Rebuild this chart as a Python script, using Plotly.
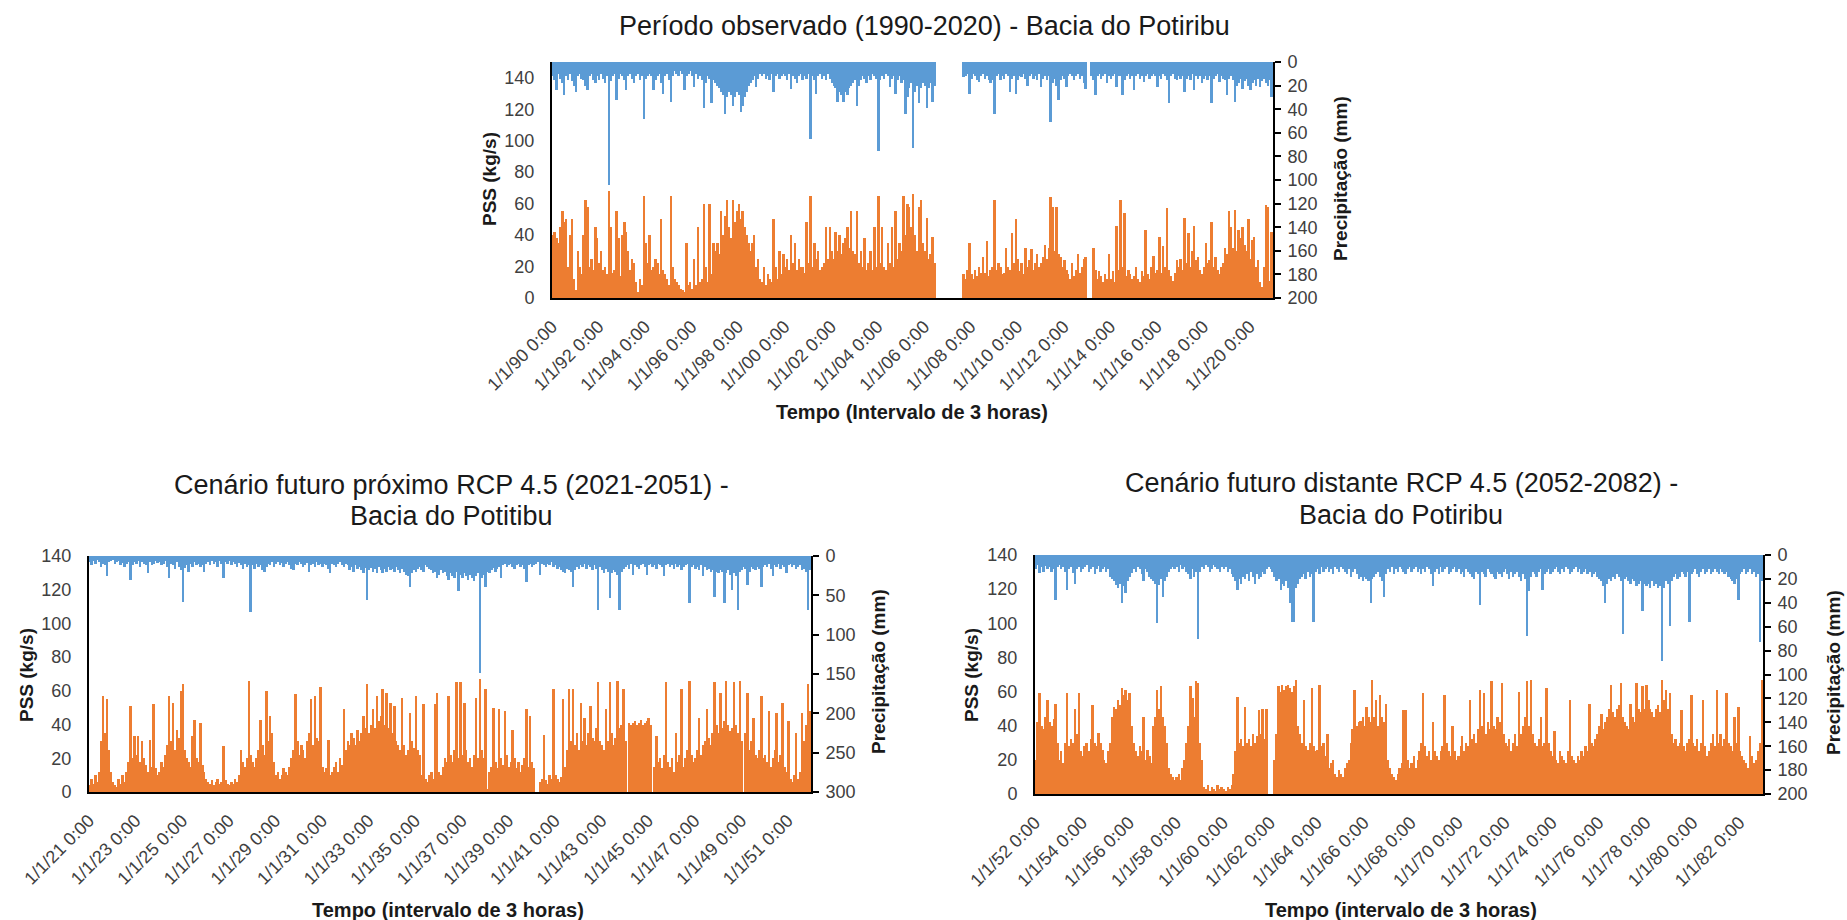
import pandas as pd
import plotly.graph_objects as go

W, H = 1847, 920
ORANGE = "#ED7D31"
BLUE = "#5B9BD5"
N = None

# ---------------- Observed period 1990-2020 (monthly values) ----------------
pss_obs = [
    40, 42, 38, 35, 45, 55, 48, 50, 20, 40, 50, 12,   # 1990
    5, 30, 20, 15, 40, 62, 58, 20, 25, 18, 45, 38,    # 1991
    22, 30, 18, 20, 15, 68, 45, 16, 18, 55, 38, 14,   # 1992
    40, 48, 42, 30, 18, 25, 22, 10, 4, 12, 8, 65,     # 1993
    35, 22, 40, 18, 20, 25, 22, 15, 50, 18, 15, 12,   # 1994
    8, 65, 20, 12, 10, 8, 6, 5, 4, 35, 8, 10,         # 1995
    6, 25, 8, 45, 10, 12, 60, 20, 10, 60, 15, 35,     # 1996
    30, 35, 28, 55, 40, 52, 62, 45, 38, 62, 48, 55,   # 1997
    60, 50, 55, 45, 40, 35, 30, 35, 40, 20, 25, 12,   # 1998
    10, 20, 8, 15, 12, 10, 50, 20, 12, 30, 15, 28,    # 1999
    20, 25, 18, 40, 22, 35, 18, 25, 20, 20, 16, 48,   # 2000
    22, 65, 20, 35, 25, 30, 18, 20, 22, 45, 25, 45,   # 2001
    30, 25, 42, 30, 40, 28, 35, 38, 45, 32, 55, 30,   # 2002
    28, 55, 22, 30, 20, 38, 18, 22, 30, 18, 45, 20,   # 2003
    65, 22, 45, 20, 18, 35, 22, 45, 20, 55, 25, 35,   # 2004
    30, 65, 40, 60, 58, 45, 66, 40, 30, 58, 62, 35,   # 2005
    30, 51, 25, 28, 39, 22, N, N, N, N, N, N,         # 2006
    N, N, N, N, N, N, N, N, 15, 12, 18, 35,           # 2007
    15, 12, 18, 14, 20, 16, 26, 16, 36, 14, 18, 20,   # 2008
    62, 18, 22, 20, 15, 16, 32, 20, 18, 41, 22, 50,   # 2009
    25, 17, 22, 15, 32, 20, 24, 31, 18, 22, 28, 20,   # 2010
    22, 26, 34, 25, 32, 64, 58, 30, 58, 28, 26, 20,   # 2011
    24, 18, 15, 12, 22, 14, 18, 28, 16, 20, 25, 26,   # 2012
    0, 0, 0, 32, 18, 12, 17, 14, 10, 15, 12, 28,      # 2013
    12, 17, 10, 46, 18, 62, 20, 54, 14, 18, 15, 12,   # 2014
    14, 20, 12, 10, 17, 14, 43, 15, 12, 20, 27, 16,   # 2015
    18, 39, 16, 33, 20, 57, 18, 14, 11, 16, 24, 20,   # 2016
    25, 18, 51, 22, 41, 20, 30, 46, 24, 26, 18, 15,   # 2017
    20, 35, 22, 24, 48, 20, 26, 18, 15, 20, 22, 32,   # 2018
    28, 55, 45, 32, 56, 30, 43, 38, 45, 34, 30, 50,   # 2019
    25, 37, 39, 20, 24, 10, 7, 20, 59, 58, 11, 42,    # 2020
]
prec_obs = [
    12, 15, 24, 10, 14, 18, 28, 12, 15, 10, 16, 20,   # 1990
    25, 12, 10, 14, 15, 20, 24, 12, 10, 15, 18, 12,   # 1991
    15, 10, 14, 18, 12, 104, 16, 12, 10, 32, 14, 10,  # 1992
    12, 15, 24, 12, 10, 14, 18, 12, 10, 15, 12, 48,   # 1993
    14, 12, 10, 12, 24, 15, 12, 10, 18, 27, 12, 10,   # 1994
    15, 34, 12, 8, 10, 12, 8, 10, 24, 12, 10, 8,      # 1995
    12, 21, 10, 14, 12, 15, 39, 18, 12, 14, 35, 15,   # 1996
    18, 20, 22, 25, 28, 44, 30, 25, 28, 37, 30, 25,   # 1997
    28, 42, 37, 30, 25, 20, 18, 15, 12, 21, 14, 10,   # 1998
    12, 10, 14, 12, 15, 10, 25, 12, 10, 14, 12, 10,   # 1999
    12, 15, 10, 23, 12, 14, 18, 12, 10, 15, 12, 14,   # 2000
    10, 65, 12, 15, 27, 12, 10, 14, 12, 15, 10, 14,   # 2001
    18, 20, 22, 34, 25, 28, 34, 25, 28, 22, 20, 18,   # 2002
    15, 37, 20, 15, 12, 14, 18, 12, 15, 10, 12, 14,   # 2003
    75, 15, 12, 14, 10, 12, 21, 14, 12, 27, 15, 12,   # 2004
    18, 15, 44, 30, 22, 18, 73, 25, 20, 35, 22, 18,   # 2005
    20, 39, 22, 18, 34, 20, N, N, N, N, N, N,         # 2006
    N, N, N, N, N, N, N, N, 13, 12, 10, 27,           # 2007
    14, 10, 12, 15, 17, 12, 10, 14, 12, 15, 18, 15,   # 2008
    44, 12, 10, 15, 12, 14, 10, 12, 25, 14, 12, 27,   # 2009
    15, 12, 13, 10, 14, 20, 12, 10, 14, 12, 15, 10,   # 2010
    21, 14, 12, 15, 12, 51, 18, 14, 20, 32, 15, 12,   # 2011
    14, 21, 12, 10, 12, 15, 12, 10, 14, 12, 18, 23,   # 2012
    0, 0, 12, 15, 28, 12, 10, 14, 12, 10, 18, 12,     # 2013
    14, 12, 10, 21, 12, 12, 28, 15, 12, 10, 14, 12,   # 2014
    24, 12, 10, 14, 12, 17, 12, 10, 14, 12, 10, 12,   # 2015
    21, 12, 14, 10, 12, 15, 35, 12, 10, 14, 15, 12,   # 2016
    14, 12, 25, 14, 12, 15, 10, 24, 12, 14, 12, 18,   # 2017
    14, 12, 15, 12, 35, 14, 12, 10, 17, 12, 14, 15,   # 2018
    28, 14, 12, 15, 34, 20, 18, 14, 23, 16, 14, 20,   # 2019
    24, 18, 15, 20, 14, 21, 16, 14, 18, 20, 15, 30,   # 2020
]

# ---------------- Near future RCP 4.5, 2021-2051 ----------------
pss_near = [
    4, 8, 5, 10, 6, 12, 30, 57, 35, 55, 25, 12,       # 2021
    6, 4, 3, 8, 5, 10, 6, 12, 18, 51, 20, 33,         # 2022
    22, 33, 18, 30, 20, 16, 12, 31, 15, 52, 14, 10,   # 2023
    12, 18, 15, 22, 28, 57, 30, 53, 25, 37, 32, 60,   # 2024
    64, 25, 20, 18, 15, 33, 43, 20, 18, 41, 16, 12,   # 2025
    8, 6, 5, 7, 4, 6, 8, 5, 6, 27, 7, 5,              # 2026
    4, 6, 5, 8, 6, 10, 25, 18, 15, 20, 66, 22,        # 2027
    18, 15, 20, 25, 43, 28, 22, 60, 30, 45, 35, 18,   # 2028
    10, 12, 8, 10, 14, 12, 10, 15, 20, 25, 58, 30,    # 2029
    22, 28, 25, 20, 30, 35, 55, 28, 57, 32, 30, 62,   # 2030
    15, 12, 14, 31, 10, 12, 15, 18, 12, 20, 16, 49,   # 2031
    25, 30, 28, 35, 32, 28, 37, 30, 35, 45, 38, 64,   # 2032
    35, 40, 49, 38, 57, 42, 45, 61, 40, 59, 38, 53,   # 2033
    35, 51, 30, 28, 25, 56, 28, 22, 25, 47, 30, 26,   # 2034
    57, 25, 22, 10, 52, 8, 6, 10, 12, 8, 52, 59,      # 2035
    12, 10, 15, 20, 18, 57, 22, 18, 25, 65, 20, 65,   # 2036
    22, 53, 25, 18, 20, 15, 22, 56, 20, 67, 25, 20,   # 2037
    61, 2, 12, 15, 50, 18, 14, 49, 20, 16, 48, 22,    # 2038
    15, 18, 37, 20, 14, 18, 12, 16, 20, 49, 15, 45,   # 2039
    18, 14, 0, 0, 6, 8, 34, 7, 5, 10, 8, 61,          # 2040
    10, 8, 6, 9, 55, 15, 25, 61, 30, 61, 28, 35,      # 2041
    25, 53, 30, 44, 28, 35, 51, 32, 30, 38, 65, 30,   # 2042
    28, 25, 49, 30, 65, 35, 28, 32, 66, 38, 40, 61,   # 2043
    30, 0, 41, 40, 41, 42, 40, 41, 43, 40, 41, 42,    # 2044
    44, 40, 0, 15, 33, 18, 20, 14, 22, 65, 18, 15,    # 2045
    20, 12, 35, 18, 22, 61, 15, 20, 25, 66, 22, 18,   # 2046
    20, 25, 44, 22, 28, 30, 49, 32, 28, 35, 65, 40,   # 2047
    35, 59, 38, 42, 66, 40, 36, 38, 65, 40, 35, 66,   # 2048
    30, 0, 35, 59, 25, 30, 44, 22, 20, 25, 57, 20,    # 2049
    22, 18, 48, 15, 20, 25, 47, 18, 22, 53, 15, 12,   # 2050
    42, 8, 6, 10, 35, 8, 12, 47, 30, 40, 64, 48,      # 2051
]
prec_near = [
    8, 12, 6, 10, 5, 8, 14, 10, 12, 26, 8, 6,         # 2021
    5, 10, 8, 6, 12, 9, 14, 10, 8, 30, 12, 8,         # 2022
    10, 6, 14, 8, 10, 12, 22, 8, 12, 10, 6, 9,        # 2023
    8, 12, 10, 6, 14, 28, 10, 12, 16, 8, 14, 18,      # 2024
    58, 15, 12, 20, 10, 14, 8, 12, 10, 14, 12, 20,    # 2025
    10, 8, 12, 6, 10, 8, 14, 6, 10, 28, 8, 10,        # 2026
    6, 12, 8, 10, 14, 9, 12, 16, 10, 14, 12, 71,      # 2027
    12, 16, 10, 14, 12, 18, 20, 14, 10, 12, 8, 14,    # 2028
    10, 8, 12, 9, 14, 10, 8, 12, 16, 18, 10, 12,      # 2029
    8, 10, 14, 12, 9, 20, 12, 10, 14, 8, 12, 10,      # 2030
    14, 10, 12, 16, 22, 10, 12, 14, 10, 8, 12, 14,    # 2031
    10, 12, 18, 14, 20, 12, 16, 14, 18, 22, 15, 56,   # 2032
    18, 15, 20, 16, 22, 14, 18, 22, 16, 20, 14, 18,   # 2033
    16, 20, 14, 18, 22, 16, 20, 24, 26, 39, 22, 18,   # 2034
    20, 16, 14, 18, 20, 12, 14, 16, 18, 22, 20, 28,   # 2035
    24, 18, 22, 20, 26, 30, 22, 25, 28, 20, 45, 24,   # 2036
    28, 22, 26, 30, 24, 28, 32, 26, 22, 149, 28, 24,  # 2037
    39, 20, 22, 18, 15, 20, 16, 14, 28, 12, 10, 14,   # 2038
    12, 10, 14, 16, 12, 10, 14, 12, 16, 33, 12, 10,   # 2039
    14, 12, 10, 8, 24, 10, 12, 14, 10, 12, 8, 14,     # 2040
    12, 16, 14, 18, 20, 22, 16, 18, 20, 39, 18, 14,   # 2041
    16, 12, 14, 10, 16, 12, 14, 18, 12, 16, 69, 14,   # 2042
    18, 22, 16, 20, 54, 22, 18, 20, 24, 69, 20, 16,   # 2043
    14, 12, 16, 10, 24, 12, 14, 16, 12, 10, 14, 24,   # 2044
    12, 10, 14, 12, 16, 10, 12, 14, 26, 12, 10, 14,   # 2045
    12, 16, 10, 14, 12, 18, 14, 12, 10, 60, 14, 12,   # 2046
    16, 14, 18, 12, 26, 14, 18, 16, 20, 18, 52, 20,   # 2047
    22, 18, 20, 60, 22, 18, 24, 43, 22, 26, 69, 20,   # 2048
    18, 14, 16, 37, 20, 14, 16, 18, 14, 16, 39, 14,   # 2049
    12, 14, 10, 16, 26, 12, 14, 10, 16, 12, 14, 22,   # 2050
    12, 10, 14, 12, 16, 14, 12, 18, 16, 20, 69, 18,   # 2051
]

# ---------------- Distant future RCP 4.5, 2052-2082 ----------------
pss_far = [
    20, 42, 59, 40, 38, 45, 55, 42, 40, 44, 53, 30,   # 2052
    20, 25, 18, 30, 59, 28, 32, 30, 50, 35, 59, 25,   # 2053
    22, 28, 30, 25, 32, 52, 30, 28, 36, 30, 26, 20,   # 2054
    18, 25, 30, 45, 51, 50, 55, 52, 62, 58, 61, 55,   # 2055
    59, 40, 30, 25, 22, 28, 25, 45, 20, 26, 22, 18,   # 2056
    40, 45, 61, 50, 63, 45, 40, 30, 15, 12, 10, 8,    # 2057
    10, 12, 8, 15, 20, 30, 40, 63, 56, 45, 66, 65,    # 2058
    30, 20, 4, 3, 5, 2, 4, 3, 2, 5, 3, 4,             # 2059
    3, 2, 4, 3, 5, 12, 25, 57, 30, 32, 28, 51,        # 2060
    30, 32, 28, 35, 30, 34, 49, 35, 50, 32, 50, 0,    # 2061
    0, 0, 20, 35, 63, 60, 64, 61, 63, 64, 62, 60,     # 2062
    63, 67, 40, 35, 30, 55, 28, 26, 30, 62, 28, 25,   # 2063
    26, 64, 28, 30, 22, 35, 15, 18, 20, 12, 10, 14,   # 2064
    12, 10, 15, 18, 20, 30, 38, 61, 40, 42, 43, 45,   # 2065
    40, 51, 45, 42, 67, 45, 55, 40, 58, 45, 42, 53,   # 2066
    20, 15, 12, 10, 8, 12, 15, 18, 49, 49, 20, 15,    # 2067
    18, 22, 15, 20, 25, 30, 59, 28, 22, 25, 20, 42,   # 2068
    25, 22, 20, 25, 28, 58, 30, 25, 22, 40, 25, 20,   # 2069
    22, 28, 34, 25, 30, 28, 55, 32, 35, 30, 38, 61,   # 2070
    40, 59, 35, 42, 38, 66, 40, 38, 45, 42, 65, 35,   # 2071
    30, 28, 32, 25, 30, 35, 28, 60, 35, 40, 45, 66,   # 2072
    40, 67, 35, 30, 28, 32, 45, 28, 30, 62, 30, 25,   # 2073
    22, 37, 20, 18, 25, 22, 20, 18, 25, 55, 22, 20,   # 2074
    18, 22, 20, 25, 22, 28, 25, 53, 30, 28, 32, 35,   # 2075
    40, 47, 38, 42, 45, 50, 64, 48, 45, 50, 52, 65,   # 2076
    45, 42, 40, 38, 53, 45, 42, 65, 50, 48, 63, 50,   # 2077
    64, 55, 50, 48, 45, 50, 52, 48, 67, 55, 61, 50,   # 2078
    59, 35, 30, 32, 28, 30, 49, 28, 25, 30, 32, 58,   # 2079
    30, 28, 32, 25, 30, 55, 28, 22, 25, 30, 35, 28,   # 2080
    61, 30, 35, 28, 32, 59, 30, 28, 25, 45, 30, 51,   # 2081
    25, 22, 20, 18, 15, 34, 22, 18, 20, 25, 30, 67,   # 2082
]
prec_far = [
    12, 8, 15, 10, 14, 9, 12, 10, 14, 12, 38, 10,     # 2052
    8, 12, 10, 14, 29, 12, 10, 15, 24, 12, 10, 14,    # 2053
    12, 10, 8, 14, 12, 10, 16, 12, 9, 14, 12, 10,     # 2054
    14, 12, 18, 20, 22, 25, 28, 24, 40, 26, 32, 22,   # 2055
    18, 15, 12, 14, 10, 12, 16, 22, 12, 14, 18, 20,   # 2056
    22, 24, 57, 25, 20, 35, 22, 18, 14, 12, 10, 12,   # 2057
    10, 14, 8, 12, 10, 14, 16, 20, 12, 18, 14, 70,    # 2058
    14, 10, 12, 8, 10, 14, 12, 8, 10, 12, 14, 10,     # 2059
    12, 10, 14, 12, 16, 18, 22, 29, 20, 24, 18, 20,   # 2060
    16, 22, 14, 18, 24, 16, 20, 18, 14, 16, 12, 10,   # 2061
    12, 14, 18, 22, 20, 29, 24, 26, 22, 28, 40, 56,   # 2062
    56, 28, 24, 20, 18, 16, 20, 14, 18, 16, 56, 14,   # 2063
    12, 16, 10, 14, 12, 10, 14, 12, 16, 10, 12, 14,   # 2064
    10, 12, 14, 16, 12, 18, 14, 12, 16, 20, 18, 22,   # 2065
    18, 20, 22, 40, 20, 18, 16, 14, 18, 22, 35, 16,   # 2066
    12, 14, 10, 16, 12, 14, 10, 12, 14, 16, 12, 10,   # 2067
    14, 12, 10, 14, 12, 16, 12, 14, 10, 12, 16, 26,   # 2068
    14, 12, 16, 10, 14, 12, 10, 16, 14, 12, 10, 14,   # 2069
    12, 16, 14, 18, 12, 14, 16, 18, 20, 14, 16, 42,   # 2070
    14, 16, 18, 12, 14, 16, 18, 20, 14, 16, 18, 14,   # 2071
    12, 16, 20, 14, 18, 16, 14, 18, 22, 16, 20, 68,   # 2072
    30, 18, 14, 16, 18, 14, 12, 29, 16, 14, 12, 16,   # 2073
    14, 12, 10, 14, 16, 12, 14, 10, 12, 16, 14, 12,   # 2074
    10, 14, 12, 16, 14, 12, 16, 14, 18, 16, 14, 18,   # 2075
    20, 22, 26, 40, 24, 20, 22, 18, 20, 16, 18, 22,   # 2076
    66, 20, 18, 22, 24, 20, 22, 26, 24, 22, 47, 24,   # 2077
    26, 24, 28, 22, 26, 24, 28, 26, 89, 28, 22, 24,   # 2078
    59, 22, 18, 16, 20, 18, 14, 16, 18, 14, 56, 16,   # 2079
    14, 12, 16, 18, 14, 12, 16, 14, 12, 16, 14, 12,   # 2080
    14, 16, 12, 14, 16, 14, 18, 20, 22, 24, 20, 38,   # 2081
    16, 14, 12, 16, 14, 12, 16, 14, 18, 16, 73, 22,   # 2082
]

# Tick years (1 Jan of every second year) for each panel
tick_years_obs = list(range(1990, 2021, 2))
tick_years_near = list(range(2021, 2052, 2))
tick_years_far = list(range(2052, 2083, 2))

titles = [
    ["Período observado (1990-2020) - Bacia do Potiribu"],
    ["Cenário futuro próximo RCP 4.5 (2021-2051) -", "Bacia do Potitibu"],
    ["Cenário futuro distante RCP 4.5 (2052-2082) -", "Bacia do Potiribu"],
]
xtitles = ["Tempo (Intervalo de 3 horas)", "Tempo (intervalo de 3 horas)",
           "Tempo (intervalo de 3 horas)"]


def px(x):
    return x / W


def py(y):
    return 1 - y / H


FONT = "Arial, Liberation Sans, Helvetica, sans-serif"
TICKC = "#404040"

# panel geometry in pixels: (left, right, top, bottom)
panels = [
    dict(box=(552, 1273, 62, 298), start="1990-01-01", end="2021-01-01",
         pss=pss_obs, prec=prec_obs, years=tick_years_obs,
         yl=(0, 150), yr=(200, 0), dr=20,
         title_xy=[(924, 26)], ylab_l=(489, 179), ylab_r=(1340, 179),
         xlab=(912, 412)),
    dict(box=(89, 811, 556, 792), start="2021-01-01", end="2052-01-01",
         pss=pss_near, prec=prec_near, years=tick_years_near,
         yl=(0, 140), yr=(300, 0), dr=50,
         title_xy=[(451, 485), (451, 516)], ylab_l=(26, 675), ylab_r=(878, 672),
         xlab=(448, 910)),
    dict(box=(1035, 1763, 555, 794), start="2052-01-01", end="2083-01-01",
         pss=pss_far, prec=prec_far, years=tick_years_far,
         yl=(0, 140), yr=(200, 0), dr=20,
         title_xy=[(1401, 483), (1401, 515)], ylab_l=(971, 675), ylab_r=(1833, 673),
         xlab=(1401, 910)),
]

fig = go.Figure()
annotations = []
MONTH_MS = 31 * 24 * 3600 * 1000

for i, p in enumerate(panels):
    k = i + 1
    xa = "x" if k == 1 else f"x{k}"
    yl_name = "y" if k == 1 else f"y{2 * k - 1}"
    yr_name = f"y{2 * k}"
    dates = pd.date_range(p["start"], periods=len(p["pss"]), freq="MS") + pd.Timedelta(days=15)

    fig.add_trace(go.Bar(x=dates, y=p["pss"], xaxis=xa, yaxis=yl_name,
                         marker=dict(color=ORANGE, line=dict(width=0)),
                         width=MONTH_MS, showlegend=False, name="PSS"))
    fig.add_trace(go.Bar(x=dates, y=p["prec"], xaxis=xa, yaxis=yr_name,
                         marker=dict(color=BLUE, line=dict(width=0)),
                         width=MONTH_MS, showlegend=False, name="Precipitação"))

    l, r, t, b = p["box"]
    xkey = "xaxis" if k == 1 else f"xaxis{k}"
    ylkey = "yaxis" if k == 1 else f"yaxis{2 * k - 1}"
    yrkey = f"yaxis{2 * k}"

    tickvals = [f"{y}-01-01" for y in p["years"]]
    ticktext = [f"1/1/{y % 100:02d} 0:00" for y in p["years"]]

    fig.layout[xkey] = dict(
        domain=[px(l), px(r)], anchor=yl_name, type="date",
        range=[p["start"], p["end"]], tickvals=tickvals, ticktext=ticktext,
        tickangle=-45, tickfont=dict(family=FONT, size=18, color=TICKC),
        showline=True, linecolor="#000000", linewidth=2, ticks="",
        showgrid=False, zeroline=False, automargin=False, ticklabelstandoff=9,
    )
    fig.layout[ylkey] = dict(
        domain=[py(b), py(t)], anchor=xa, range=list(p["yl"]),
        tick0=0, dtick=20, tickfont=dict(family=FONT, size=18, color=TICKC),
        showline=True, linecolor="#000000", linewidth=2, ticks="",
        showgrid=False, zeroline=False, automargin=False, ticklabelstandoff=12,
    )
    fig.layout[yrkey] = dict(
        overlaying=yl_name, anchor=xa, side="right", range=list(p["yr"]),
        tick0=0, dtick=p["dr"], tickfont=dict(family=FONT, size=18, color=TICKC),
        showline=True, linecolor="#000000", linewidth=2, ticks="outside",
        ticklen=6, tickwidth=1.5, tickcolor="#000000",
        showgrid=False, zeroline=False, automargin=False, ticklabelstandoff=3,
    )

    for line, (tx, ty) in zip(titles[i], p["title_xy"]):
        annotations.append(dict(text=line, x=px(tx), y=py(ty), xref="paper", yref="paper",
                                xanchor="center", yanchor="middle", showarrow=False,
                                font=dict(family=FONT, size=27, color="#1a1a1a")))
    annotations.append(dict(text="<b>PSS (kg/s)</b>", x=px(p["ylab_l"][0]), y=py(p["ylab_l"][1]),
                            xref="paper", yref="paper", xanchor="center", yanchor="middle",
                            textangle=-90, showarrow=False,
                            font=dict(family=FONT, size=19, color="#1a1a1a")))
    annotations.append(dict(text="<b>Precipitação (mm)</b>", x=px(p["ylab_r"][0]), y=py(p["ylab_r"][1]),
                            xref="paper", yref="paper", xanchor="center", yanchor="middle",
                            textangle=-90, showarrow=False,
                            font=dict(family=FONT, size=19, color="#1a1a1a")))
    annotations.append(dict(text=f"<b>{xtitles[i]}</b>", x=px(p["xlab"][0]), y=py(p["xlab"][1]),
                            xref="paper", yref="paper", xanchor="center", yanchor="middle",
                            showarrow=False,
                            font=dict(family=FONT, size=20, color="#1a1a1a")))

fig.update_layout(
    width=W, height=H, margin=dict(l=0, r=0, t=0, b=0),
    paper_bgcolor="white", plot_bgcolor="white",
    bargap=0, barmode="overlay", annotations=annotations, showlegend=False,
)

fig.write_html("out.html", include_plotlyjs=True, config={"displayModeBar": False})
